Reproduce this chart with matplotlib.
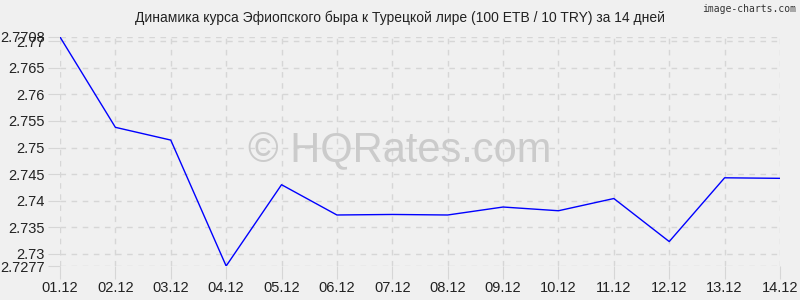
import matplotlib.pyplot as plt

# data
days = ['01.12', '02.12', '03.12', '04.12', '05.12', '06.12', '07.12',
        '08.12', '09.12', '10.12', '11.12', '12.12', '13.12', '14.12']
rates = [2.7708, 2.7538, 2.7514, 2.7277, 2.7430, 2.7373, 2.7374,
         2.7373, 2.7388, 2.7381, 2.7404, 2.7323, 2.7443, 2.7442]
y_ticks = [2.7277, 2.73, 2.735, 2.74, 2.745, 2.75, 2.755, 2.76, 2.765, 2.77, 2.7708]
y_labels = ['2.7277', '2.73', '2.735', '2.74', '2.745', '2.75', '2.755',
            '2.76', '2.765', '2.77', '2.7708']

plt.rcParams['font.family'] = ['Liberation Sans', 'DejaVu Sans']

bg = '#f0f0f0'
fig = plt.figure(figsize=(8, 3), dpi=100, facecolor=bg)
ax = fig.add_axes([60 / 800, 34 / 300, 720 / 800, 229 / 300], facecolor=bg)

x = list(range(len(days)))
ax.plot(x, rates, color='#0000ff', linewidth=1, zorder=3)

ax.set_xlim(0, len(days) - 1)
ax.set_ylim(y_ticks[0], y_ticks[-1])
ax.set_xticks(x)
ax.set_xticklabels(days)
ax.set_yticks(y_ticks)
ax.set_yticklabels(y_labels)

ax.grid(True, color='#d6d6d6', linestyle=(0, (4, 4)), linewidth=1)
ax.tick_params(axis='both', length=9, color='#d6d6d6', labelsize=10.5,
               labelcolor='#222222', pad=2)
for s in ax.spines.values():
    s.set_visible(False)

fig.text(0.5, 0.965, 'Динамика курса Эфиопского быра к Турецкой лире (100 ETB / 10 TRY) за 14 дней',
         fontsize=10, color='#222222', ha='center', va='top')

# watermark
fig.text(0.5, 0.5, '© HQRates.com', fontsize=30,
         color='#cbcbcb', ha='center', va='center', zorder=1)
fig.text(0.995, 0.985, 'image-charts.com', fontsize=7, color='#333333',
         ha='right', va='top', family='DejaVu Sans Mono')

fig.savefig('out.png', dpi=100, facecolor=bg)
